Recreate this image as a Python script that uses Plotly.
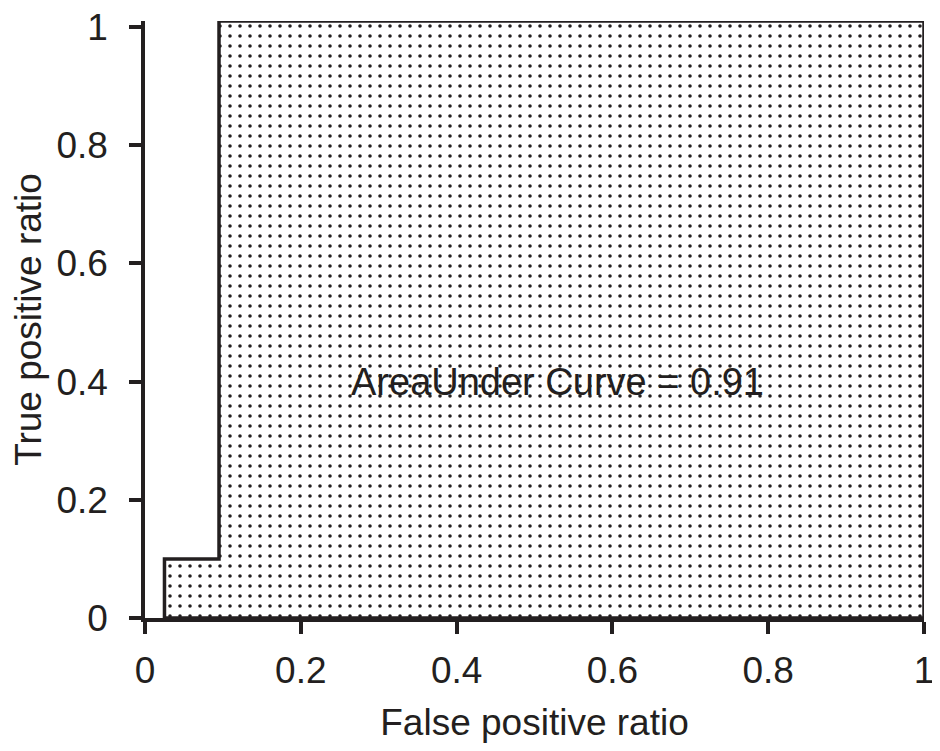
import plotly.graph_objects as go

# ROC step curve (closed outline of the area under the curve)
fpr = [0.025, 0.025, 0.095, 0.095, 1.0, 1.0, 0.025]
tpr = [0.0, 0.1, 0.1, 1.01, 1.01, 0.0, 0.0]

x_ticks = [0, 0.2, 0.4, 0.6, 0.8, 1]
x_tick_labels = ["0", "0.2", "0.4", "0.6", "0.8", "1"]
y_ticks = [0, 0.2, 0.4, 0.6, 0.8, 1]
y_tick_labels = ["0", "0.2", "0.4", "0.6", "0.8", "1"]

auc_label = "AreaUnder Curve = 0.91"
auc_pos = (0.53, 0.4)

ink = "#231f20"
font_family = "Liberation Sans, Arial, sans-serif"

fig = go.Figure()
fig.add_trace(go.Scatter(
    x=fpr, y=tpr, mode="lines", fill="toself",
    fillcolor="rgba(0,0,0,0)",
    fillpattern=dict(shape=".", size=10, solidity=0.1, fgcolor=ink, bgcolor="white", fgopacity=1),
    line=dict(color=ink, width=3.5),
    hoverinfo="skip", showlegend=False,
))

fig.add_annotation(
    x=auc_pos[0], y=auc_pos[1], text=auc_label, showarrow=False,
    font=dict(family=font_family, size=38, color=ink),
    xanchor="center", yanchor="middle",
)

axis_common = dict(
    showgrid=False, zeroline=False, showline=True, linecolor=ink, linewidth=3.5,
    ticks="outside", ticklen=12, tickwidth=3.5, tickcolor=ink,
    tickfont=dict(family=font_family, size=37, color=ink),
    title_font=dict(family=font_family, size=37, color=ink),
    automargin=False, ticklabeloverflow="allow",
)

fig.update_xaxes(range=[0, 1], tickvals=x_ticks, ticktext=x_tick_labels,
                 ticklabelstandoff=5,
                 title_text="False positive ratio", title_standoff=26, **axis_common)
fig.update_yaxes(range=[0, 1.01], tickvals=y_ticks, ticktext=y_tick_labels,
                 ticklabelstandoff=14,
                 title_text="True positive ratio", title_standoff=16, **axis_common)

fig.update_layout(
    width=932, height=735,
    margin=dict(l=137, r=16, t=13, b=125),
    plot_bgcolor="white", paper_bgcolor="white",
    font=dict(family=font_family, color=ink),
)

fig.write_html("out.html")
